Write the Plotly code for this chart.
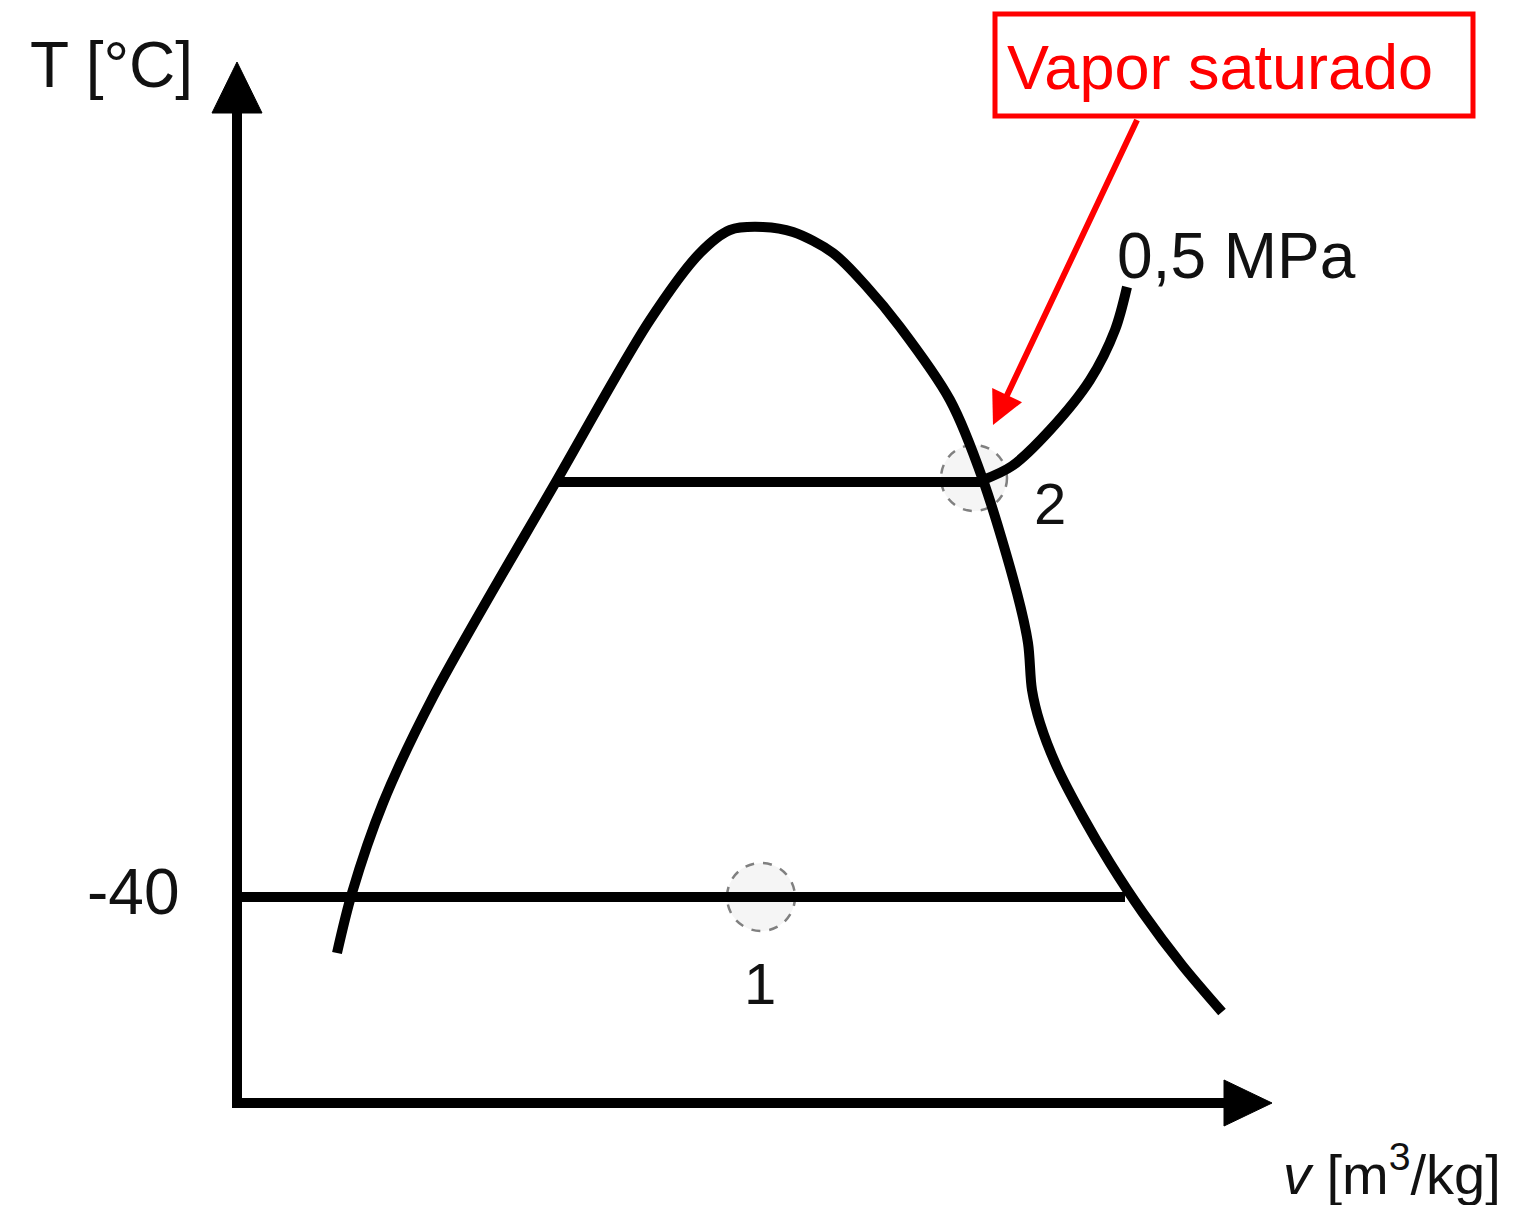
import plotly.graph_objects as go

# schematic T-v diagram, units are arbitrary (origin at axes corner)
dome_v = [100, 115, 146, 196, 320, 413, 463, 493, 526, 556, 596, 630, 663, 713, 746,
          780, 791, 795, 803, 820, 846, 873, 906, 945, 985]
dome_T = [150, 210, 300, 406, 623, 783, 850, 873, 876, 871, 850, 816, 776, 703, 623,
          510, 460, 413, 380, 336, 286, 240, 190, 138, 91]

# 0,5 MPa isobar: flat part inside the dome, then superheated branch
flat_v = [320, 746]
T_flat = 621
super_v = [746, 775, 813, 853, 878, 890]
super_T = [623, 637, 673, 723, 773, 816]

low_v = [0, 888]
T_low = 206
state1 = (524, 206)
state2 = (737, 625)

axis_top = 1041
axis_right = 1035

font = "Liberation Sans, Arial, sans-serif"
black = "#000000"
lw = 10

fig = go.Figure()

# axes
fig.add_trace(go.Scatter(x=[0, 0, axis_right - 45], y=[axis_top - 45, 0, 0], mode="lines",
                         line=dict(color=black, width=lw), hoverinfo="skip"))
fig.add_trace(go.Scatter(x=[-25, 25, 0, -25], y=[axis_top - 51, axis_top - 51, axis_top, axis_top - 51],
                         fill="toself", fillcolor=black, mode="lines", line=dict(color=black, width=1)))
fig.add_trace(go.Scatter(x=[axis_right - 48, axis_right, axis_right - 48, axis_right - 48], y=[23, 0, -23, 23],
                         fill="toself", fillcolor=black, mode="lines", line=dict(color=black, width=1)))

# state circles (dashed)
for (cx, cy), r in [(state1, 34), (state2, 33)]:
    fig.add_shape(type="circle", xref="x", yref="y", x0=cx - r, x1=cx + r, y0=cy - r, y1=cy + r,
                  fillcolor="#f5f5f5", line=dict(color="#808080", width=2.5, dash="dash"), layer="below")

# saturation dome
fig.add_trace(go.Scatter(x=dome_v, y=dome_T, mode="lines",
                         line=dict(color=black, width=lw, shape="spline", smoothing=0.9)))
# isobar 0.5 MPa
fig.add_trace(go.Scatter(x=flat_v, y=[T_flat, T_flat], mode="lines", line=dict(color=black, width=lw)))
fig.add_trace(go.Scatter(x=super_v, y=super_T, mode="lines",
                         line=dict(color=black, width=lw, shape="spline", smoothing=0.9)))
# -40 line
fig.add_trace(go.Scatter(x=low_v, y=[T_low, T_low], mode="lines", line=dict(color=black, width=lw)))

ann = [
    dict(x=-209, y=1038, text="T [°C]", xanchor="left", size=64),
    dict(x=-55, y=211, text="-40", xanchor="right", size=64),
    dict(x=878, y=847, text="0,5 MPa", xanchor="left", size=64),
    dict(x=813, y=600, text="2", xanchor="center", size=58),
    dict(x=523, y=120, text="1", xanchor="center", size=58),
    dict(x=1044, y=-67, text="<i>v</i> [m<sup>3</sup>/kg]", xanchor="left", size=56),
]
for a in ann:
    fig.add_annotation(x=a["x"], y=a["y"], text=a["text"], xanchor=a["xanchor"], yanchor="middle",
                       showarrow=False, font=dict(family=font, size=a["size"], color="#111111"))

# callout
fig.add_shape(type="rect", xref="x", yref="y", x0=758, x1=1236, y0=987, y1=1089,
              line=dict(color="#ff0000", width=5))
fig.add_annotation(x=983, y=1036, text="Vapor saturado", showarrow=False,
                   font=dict(family=font, size=63, color="#ff0000"))
fig.add_annotation(x=756, y=678, ax=901, ay=985, axref="x", ayref="y", text=" ",
                   showarrow=True, arrowhead=2, arrowsize=1.1, arrowwidth=6, arrowcolor="#ff0000",
                   font=dict(size=1))

# page body has an 8px margin, so the figure is 8px smaller and the ranges shifted
fig.update_layout(
    width=1523, height=1197, showlegend=False,
    margin=dict(l=0, r=0, t=0, b=0),
    plot_bgcolor="white", paper_bgcolor="white",
    xaxis=dict(range=[-229, 1294], visible=False, fixedrange=True),
    yaxis=dict(range=[-102, 1095], visible=False, fixedrange=True),
)

fig.write_html("out.html")
